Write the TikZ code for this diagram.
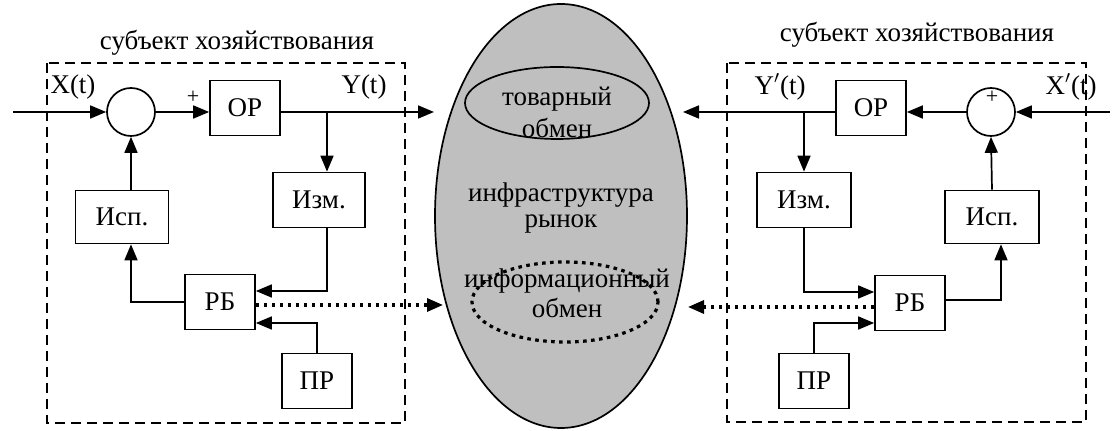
\documentclass[tikz,border=0pt]{standalone}
\usepackage{fontspec}
\setmainfont{Liberation Serif}
\usetikzlibrary{arrows.meta,shapes.geometric}
\begin{document}
\begin{tikzpicture}[x=0.5pt,y=-0.5pt,
    font=\fontsize{13.5}{15}\selectfont,
    line width=0.85pt,
    blok/.style={draw,minimum width=35pt,minimum height=27.5pt,inner sep=0pt},
    summa/.style={draw,circle,minimum size=24pt,inner sep=0pt},
    strelka/.style={-{Triangle[length=8pt,width=6.5pt]}},
    tochki/.style={line width=1.6pt,dash pattern=on 1.8pt off 2.2pt},
    ramka/.style={dash pattern=on 5pt off 3pt},
    nadpis/.style={inner sep=0.5pt}]
  \useasboundingbox (0,0) rectangle (1120,431);
  \draw[ramka] (47,63) rectangle (405,423);
  \draw[ramka] (727,63) rectangle (1086,422);
  \node (titleL) at (237,43) {субъект хозяйствования};
  \node (titleR) at (917,35) {субъект хозяйствования};

  \node[draw,ellipse,fill=black!25,minimum width=126pt,minimum height=212pt] (rynok) at (561,216) {};
  \node[draw,ellipse,minimum width=92pt,minimum height=36pt] (tovar) at (557,103) {};
  \node[draw,ellipse,tochki,minimum width=93pt,minimum height=40pt] (infobmen) at (565,302) {};
  \node[nadpis] (tovar1) at (557,99) {товарный};
  \node[nadpis] (tovar2) at (557,128) {обмен};
  \node[nadpis] (infra1) at (561,195) {инфраструктура};
  \node[nadpis] (infra2) at (561,224) {рынок};
  \node[nadpis] (info1) at (567,281) {информационный};
  \node[nadpis] (info2) at (567,308) {обмен};

  \coordinate (inL) at (13,112);
  \coordinate (outL) at (434,112);
  \coordinate (brL) at (327,112);
  \coordinate (dotL) at (443,305);
  \node[summa] (sumL) at (131,112) {};
  \node[blok] (orL) at (245,108) {ОР};
  \node[blok,minimum width=46pt] (izmL) at (319,200) {Изм.};
  \node[blok,minimum width=46.5pt,minimum height=26.5pt] (ispL) at (122,217) {Исп.};
  \node[blok] (rbL) at (220,302) {РБ};
  \node[blok] (prL) at (317,381) {ПР};
  \node (xL) at (73,87) {X(t)};
  \node (yL) at (364,87) {Y(t)};
  \node[font=\fontsize{11}{12}\selectfont] (plusL) at (193,97) {+};
  \draw[strelka] (inL) -- (sumL.west);
  \draw[strelka] (sumL.east) -- (sumL.east -| orL.west);
  \draw[strelka] (sumL.east -| orL.east) -- (outL);
  \draw[strelka] (brL) -- (brL |- izmL.north);
  \draw[strelka] (izmL.south -| brL) |- ([yshift=5.5pt]rbL.east);
  \draw[strelka] (prL.north) |- ([yshift=-10.5pt]rbL.east);
  \draw[strelka] (rbL.west) -| (ispL.south -| sumL);
  \draw[strelka] (ispL.north -| sumL) -- (sumL.south);
  \draw[tochki,strelka] ([yshift=-1.5pt]rbL.east) -- (dotL);

  \coordinate (inR) at (1110,112);
  \coordinate (outR) at (683,112);
  \coordinate (brR) at (804,112);
  \coordinate (dotR) at (688,307);
  \node[summa] (sumR) at (991,112) {};
  \node[blok] (orR) at (871,108) {ОР};
  \node[blok,minimum width=47pt] (izmR) at (804,200) {Изм.};
  \node[blok,minimum width=47pt,minimum height=26.5pt] (ispR) at (992,217) {Исп.};
  \node[blok] (rbR) at (910,303) {РБ};
  \node[blok] (prR) at (814,381) {ПР};
  \node (yR) at (780,87) {Y$'$(t)};
  \node (xR) at (1071,87) {X$'$(t)};
  \node[font=\fontsize{11}{12}\selectfont] (plusR) at (992,97) {+};
  \draw[strelka] (inR) -- (sumR.east);
  \draw[strelka] (sumR.west) -- (sumR.west -| orR.east);
  \draw[strelka] (sumR.west -| orR.west) -- (outR);
  \draw[strelka] (brR) -- (izmR.north);
  \draw[strelka] (izmR.south) |- ([yshift=5.5pt]rbR.west);
  \draw[strelka] (prR.north) |- ([yshift=-10pt]rbR.west);
  \draw[strelka] ([yshift=1.5pt]rbR.east) -| ([xshift=4.5pt]ispR.south);
  \draw[strelka] (ispR.north) -- (sumR.south);
  \draw[tochki,strelka] ([yshift=-2pt]rbR.west) -- (dotR);
\end{tikzpicture}
\end{document}
